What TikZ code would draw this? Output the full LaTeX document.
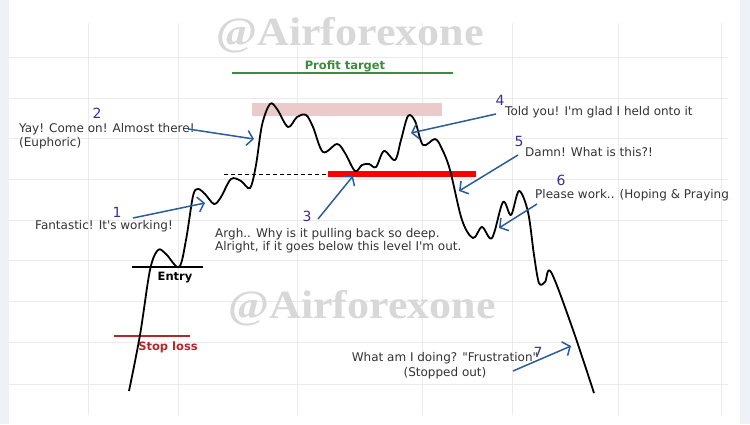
\documentclass[tikz,border=0pt]{standalone}
\usepackage{fontspec}
\setmainfont{DejaVu Sans}
\newfontfamily\markfont{Liberation Serif}
\usepackage{xcolor}
\usepackage{tikz}
\usetikzlibrary{arrows.meta, positioning}
\definecolor{chartGrid}{RGB}{235, 235, 235}
\definecolor{chartEdge}{RGB}{238, 242, 247}
\definecolor{chartBlue}{RGB}{43, 92, 158}
\definecolor{chartIndigo}{RGB}{63, 46, 147}
\definecolor{chartGreen}{RGB}{61, 139, 61}
\definecolor{chartRed}{RGB}{178, 40, 45}
\definecolor{chartPink}{RGB}{234, 202, 202}
\definecolor{chartMark}{RGB}{216, 216, 216}

\begin{document}
\begin{tikzpicture}[
  x=1pt, y=-1pt,
  note/.style={font=\fontsize{12}{14}\selectfont, text=black!80,
    inner sep=0pt, align=left, anchor=west},
  num/.style={font=\fontsize{14}{14}\selectfont, text=chartIndigo, inner sep=0pt},
  level/.style={font=\fontsize{11.5}{13}\selectfont\bfseries, inner sep=0pt},
  watermark/.style={font=\markfont\fontsize{40}{40}\selectfont\bfseries,
    text=chartMark, inner sep=0pt, anchor=base},
  hint/.style={->, draw=chartBlue, line width=1.5pt},
  price/.style={draw=black, line width=1.8pt, line join=round},
  >={Straight Barb[length=6pt, width=15pt]}
]

\useasboundingbox (0,0) rectangle (750,424);
\fill[white] (0,0) rectangle (750,424);

% grid
\foreach \gx in {88,178,297,422,512,618,721}
  \draw[chartGrid] (\gx,23) -- (\gx,415);
\foreach \gy in {57,98,138,179,220,260,301,342,384}
  \draw[chartGrid] (9,\gy) -- (728,\gy);

\node[watermark] (markTop) at (350,45) {\scalebox{1.1}[1]{@Airforexone}};
\node[watermark] (markMid) at (362,318) {\scalebox{1.1}[1]{@Airforexone}};

% levels
\node[level, text=chartGreen] (profit) at (345,66) {Profit target};
\draw[chartGreen, line width=1.8pt] (232,73) -- (453,73);
\fill[chartPink] (252,103) rectangle (442,116);
\draw[black, dash pattern=on 4pt off 3pt, line width=0.8pt] (224,174) -- (328,174);
\fill[red] (328,171) rectangle (476,177);
\draw[black, line width=1.8pt] (132,267) -- (203,267);
\node[level] (entry) at (175,278) {Entry};
\draw[chartRed, line width=1.4pt] (114,336) -- (190,336);
\node[level, text=chartRed] (stop) at (168,347) {Stop loss};

% price path
\draw[price] plot[smooth, tension=0.55] coordinates {
  (129,391) (140,335) (150,270) (158,250) (166,254) (179,267)
  (186,240) (193,196) (198,189) (205,194) (214,204) (221,197) (231,179)
  (241,181) (250,188) (256,165) (262,125) (270,104) (277,109) (288,127)
  (297,117) (306,115) (313,127) (323,152) (337,144) (345,153) (355,171)
  (362,165) (369,164) (376,167) (384,151) (395,160) (401,140) (408,116)
  (415,121) (423,145) (435,139) (442,149) (450,170) (462,220) (473,238)
  (482,227) (492,238) (503,202) (511,215) (519,191) (528,212) (534,255)
  (539,283) (545,282) (551,272) (572,327) (594,393)};

% comments
\node[note] (t2) at (19,136) {Yay! Come on! Almost there!\\(Euphoric)};
\node[note] (t1) at (35,226) {Fantastic! It\textquotesingle s working!};
\node[note, font=\fontsize{12}{13}\selectfont] (t3) at (215,241)
  {Argh.. Why is it pulling back so deep.\\Alright, if it goes below this level I\textquotesingle m out.};
\node[note] (t4) at (505,112) {Told you! I\textquotesingle m glad I held onto it};
\node[note] (t5) at (525,152) {Damn! What is this?!};
\begin{scope}
  \clip (0,0) rectangle (729,424);
  \node[note] (t6) at (535,195) {Please work.. (Hoping \& Praying)};
\end{scope}
\node[note, align=center, anchor=center, font=\fontsize{12}{15}\selectfont] (t7) at (445,366)
  {What am I doing? \textquotedbl Frustration\textquotedbl\\(Stopped out)};

\node[num] (n1) at (117,212) {1};
\node[num] (n2) at (97,113) {2};
\node[num] (n3) at (307,216) {3};
\node[num] (n4) at (500,100) {4};
\node[num] (n5) at (519,141) {5};
\node[num] (n6) at (561,180) {6};
\node[num] (n7) at (538,352) {7};

\coordinate (tail1) at (133,218); \coordinate (head1) at (205,203);
\coordinate (tail2) at (188,129); \coordinate (head2) at (254,139);
\coordinate (tail3) at (318,219); \coordinate (head3) at (353,176);
\coordinate (tail4) at (496,114); \coordinate (head4) at (411,133);
\coordinate (tail5) at (518,155); \coordinate (head5) at (459,191);
\coordinate (tail6) at (537,204); \coordinate (head6) at (499,228);
\coordinate (tail7) at (513,371); \coordinate (head7) at (571,346);

\foreach \k in {1,...,7}
  \draw[hint] (tail\k) -- (head\k);

% side strips
\fill[chartEdge] (0,0) rectangle (9,424);
\fill[chartEdge] (740,0) rectangle (750,424);

\end{tikzpicture}
\end{document}
